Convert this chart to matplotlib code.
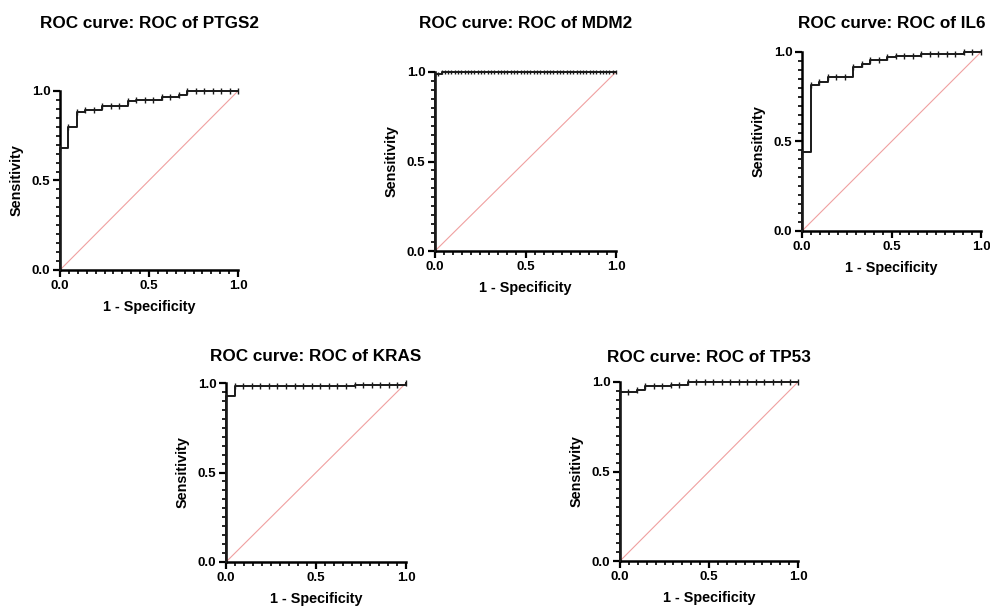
import matplotlib
matplotlib.use("Agg")
import matplotlib.pyplot as plt
from matplotlib.ticker import MultipleLocator, FormatStrFormatter
import numpy as np

plt.rcParams['font.family'] = ['Liberation Sans', 'DejaVu Sans']
plt.rcParams['font.weight'] = 'bold'

genes = ["PTGS2", "MDM2", "IL6", "KRAS", "TP53"]

# Sensitivity reached at each false-positive count k (k = 0 .. n_controls)
ptgs2_controls = 21
ptgs2_sens = [0.68, 0.80, 0.885, 0.896, 0.896, 0.914, 0.914, 0.914, 0.942, 0.952, 0.952,
              0.952, 0.967, 0.967, 0.978, 1.0, 1.0, 1.0, 1.0, 1.0, 1.0, 1.0]

mdm2_controls = 55
mdm2_sens = [0.99, 0.99, 1.0, 1.0, 1.0, 1.0, 1.0, 1.0, 1.0, 1.0, 1.0, 1.0, 1.0, 1.0,
             1.0, 1.0, 1.0, 1.0, 1.0, 1.0, 1.0, 1.0, 1.0, 1.0, 1.0, 1.0, 1.0, 1.0,
             1.0, 1.0, 1.0, 1.0, 1.0, 1.0, 1.0, 1.0, 1.0, 1.0, 1.0, 1.0, 1.0, 1.0,
             1.0, 1.0, 1.0, 1.0, 1.0, 1.0, 1.0, 1.0, 1.0, 1.0, 1.0, 1.0, 1.0, 1.0]

il6_controls = 21
il6_sens = [0.44, 0.815, 0.835, 0.86, 0.86, 0.86, 0.915, 0.935, 0.957, 0.957, 0.97,
            0.975, 0.975, 0.975, 0.99, 0.99, 0.99, 0.99, 0.99, 1.0, 1.0, 1.0]

kras_controls = 21
kras_sens = [0.93, 0.983, 0.983, 0.983, 0.983, 0.983, 0.983, 0.983, 0.983, 0.983, 0.983,
             0.983, 0.983, 0.983, 0.983, 0.991, 0.991, 0.991, 0.991, 0.991, 0.991, 1.0]

tp53_controls = 21
tp53_sens = [0.945, 0.945, 0.955, 0.975, 0.975, 0.975, 0.985, 0.985, 1.0, 1.0, 1.0,
             1.0, 1.0, 1.0, 1.0, 1.0, 1.0, 1.0, 1.0, 1.0, 1.0, 1.0]

data = {
    "PTGS2": (ptgs2_controls, ptgs2_sens),
    "MDM2": (mdm2_controls, mdm2_sens),
    "IL6": (il6_controls, il6_sens),
    "KRAS": (kras_controls, kras_sens),
    "TP53": (tp53_controls, tp53_sens),
}

W, H = 990, 607
# axes boxes in pixels: x0, x1, y_top, y_bottom ; title baseline y
boxes = {
    "PTGS2": (60, 238, 91, 270, 28),
    "MDM2": (435, 616, 72, 251, 28),
    "IL6": (802, 981, 52, 231, 28),
    "KRAS": (226, 406, 383, 562, 361),
    "TP53": (620, 798, 382, 561, 362),
}

fig = plt.figure(figsize=(W / 100, H / 100), dpi=100)
fig.patch.set_facecolor("white")

for g in genes:
    x0, x1, yt, yb, tb = boxes[g]
    ax = fig.add_axes([x0 / W, 1 - yb / H, (x1 - x0) / W, (yb - yt) / H])
    n, sens = data[g]
    fp = np.arange(len(sens)) / n
    xs = np.concatenate([[0.0], fp])
    ys = np.concatenate([[0.0], sens])
    ax.plot([0, 1], [0, 1], color="#f0a0a0", lw=0.8, zorder=2)
    ax.step(xs, ys, where="post", color="#1a1a1a", lw=1.4, zorder=3, clip_on=False)
    ms = 5 if n <= 30 else 3
    ax.plot(fp, sens, linestyle="none", marker="|", ms=ms, mew=1.0,
            color="#1a1a1a", zorder=4, clip_on=False)
    ax.set_xlim(0, 1)
    ax.set_ylim(0, 1)
    for s in ["top", "right"]:
        ax.spines[s].set_visible(False)
    for s in ["left", "bottom"]:
        ax.spines[s].set_linewidth(1.8)
        ax.spines[s].set_color("black")
    ax.xaxis.set_major_locator(MultipleLocator(0.5))
    ax.yaxis.set_major_locator(MultipleLocator(0.5))
    ax.xaxis.set_minor_locator(MultipleLocator(0.05))
    ax.yaxis.set_minor_locator(MultipleLocator(0.05))
    ax.tick_params(which="major", direction="out", length=5, width=1.6, pad=2,
                   labelsize=9.6)
    ax.tick_params(which="minor", direction="out", length=3, width=1.2)
    ax.xaxis.set_major_formatter(FormatStrFormatter("%.1f"))
    ax.yaxis.set_major_formatter(FormatStrFormatter("%.1f"))
    for lab in ax.get_xticklabels() + ax.get_yticklabels():
        lab.set_fontweight("bold")
    ax.set_xlabel("1 - Specificity", fontsize=10.4, fontweight="bold", labelpad=6)
    ax.set_ylabel("Sensitivity", fontsize=10.4, fontweight="bold", labelpad=6)
    fig.text((x0 + x1) / 2 / W, 1 - tb / H, f"ROC curve: ROC of {g}",
             ha="center", va="baseline", fontsize=12.3, fontweight="bold")

fig.savefig("out.png", dpi=100, facecolor="white")
